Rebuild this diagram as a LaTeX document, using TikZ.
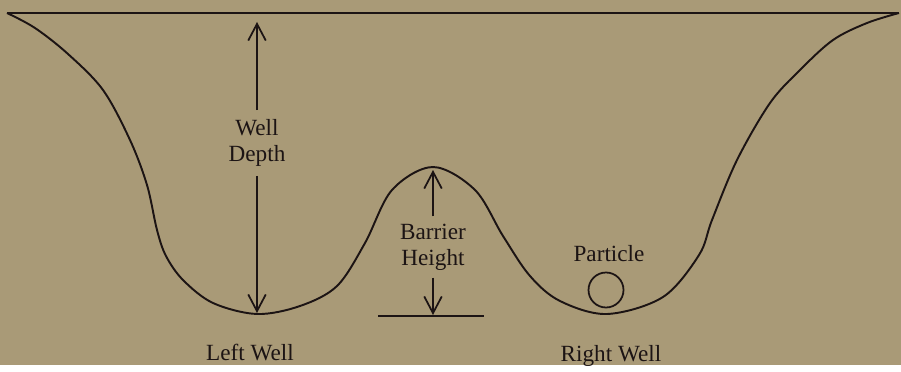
\documentclass[tikz,border=0pt]{standalone}
\usepackage{fontspec}
\setmainfont{Liberation Serif}
\usetikzlibrary{arrows.meta, positioning}

\definecolor{paper}{RGB}{169,154,119}
\definecolor{ink}{RGB}{28,20,20}

\begin{document}
\begin{tikzpicture}[
  x=0.02cm, y=-0.02cm,
  every node/.style={font=\fontsize{13.2}{15}\selectfont, text=ink},
  curve/.style={draw=ink, line width=1.1pt},
  arr/.style={-{Straight Barb[length=9.5pt, width=10pt, line width=1pt]}, draw=ink, line width=1pt},
  lbl/.style={align=center, inner xsep=2pt, inner ysep=#1},
  lbl/.default=5pt,
  ball/.style={circle, draw=ink, line width=1pt, minimum size=0.7cm, inner sep=0pt},
]

% ── Fond ─────────────────────────────────────────────────────────────
\fill[paper] (0,0) rectangle (901,365);

% ── Points de la courbe ──────────────────────────────────────────────
\coordinate (topL)  at (7,13);
\coordinate (topR)  at (899,13);
\coordinate (depthtop) at (257,22);
\coordinate (minL)  at (257,313);
\coordinate (peak)  at (433,170);
\coordinate (baseL) at (378,316);
\coordinate (baseR) at (484,316);
\coordinate (basemid) at (433,315);

% ── Niveau supérieur ─────────────────────────────────────────────────
\draw[curve] (topL) -- (topR);

% ── Double puits ─────────────────────────────────────────────────────
\draw[curve] plot[smooth, tension=0.55] coordinates {
  (7,13) (35,28) (68,54) (103,90) (130,140) (147,185) (157,230)
  (166,256) (183,280) (213,303) (257,314) (300,306) (337,286)
  (365,243) (392,190) (433,167) (475,190) (503,236) (530,276)
  (560,301) (607,314) (663,297) (699,255) (712,220) (737,160)
  (770,103) (800,70) (833,40) (867,23) (899,13)};

% ── Ligne de base de la barrière ─────────────────────────────────────
\draw[curve] (baseL) -- (baseR);

% ── Étiquettes ───────────────────────────────────────────────────────
\node[lbl] (depth) at (257,143) {Well\\Depth};
\node[lbl=4pt] (barrier) at (433,247) {Barrier\\Height};
\node[anchor=base] (left)  at (250,360) {Left Well};
\node[anchor=base] (right) at (611,361) {Right Well};
\node[anchor=base] (part)  at (609,261) {Particle};
\node[ball] (particle) at (606,290) {};

% ── Flèches ──────────────────────────────────────────────────────────
\draw[arr] (depth.north) -- (depthtop);
\draw[arr] (depth.south) -- (minL);
\draw[arr] (barrier.north) -- (peak);
\draw[arr] (barrier.south) -- (basemid);

\end{tikzpicture}
\end{document}
